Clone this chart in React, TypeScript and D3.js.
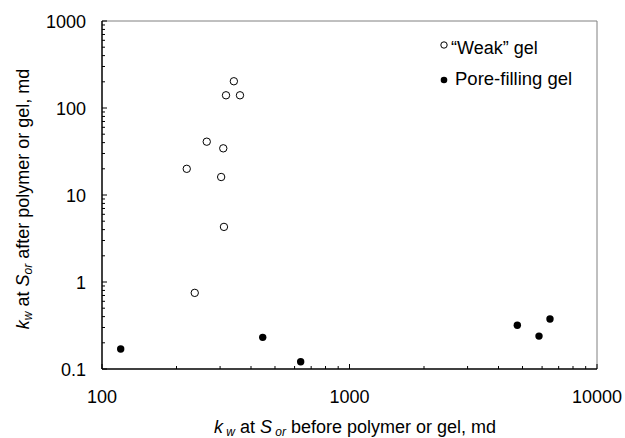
import React from "react";
import * as d3 from "d3";

const weakX = [220, 265, 303, 309, 317, 341, 361, 311, 237];
const weakY = [20, 41, 16.1, 34.4, 140, 203, 140, 4.3, 0.75];
const poreX = [119, 446, 635, 4765, 5830, 6457];
const poreY = [0.17, 0.231, 0.121, 0.318, 0.239, 0.376];
const xTicks = [100, 1000, 10000];
const yTicks = [0.1, 1, 10, 100, 1000];

const W = 625, H = 438;
const L = 102, R = 597, T = 21, B = 369;

export default function App() {
  const x = d3.scaleLog().domain([100, 10000]).range([L, R]);
  const y = d3.scaleLog().domain([0.1, 1000]).range([B, T]);
  const font = "Liberation Sans, Arial, sans-serif";

  const xMinor: number[] = [];
  for (let d = 100; d < 10000; d *= 10) for (let m = 2; m <= 9; m++) xMinor.push(d * m);
  const yMinor: number[] = [];
  for (let d = 0.1; d < 1000; d *= 10) for (let m = 2; m <= 9; m++) yMinor.push(+(d * m).toPrecision(3));

  return (
    <svg width={W} height={H} style={{ position: "absolute", left: 0, top: 0 }} fontFamily={font}>
      <rect x={0} y={0} width={W} height={H} fill="#fff" />
      <line x1={L} x2={R} y1={T} y2={T} stroke="#808080" strokeWidth={1} />
      <line x1={R} x2={R} y1={T} y2={B} stroke="#808080" strokeWidth={1} />
      {xMinor.map((v, i) => (
        <line key={"xm" + i} x1={x(v)} x2={x(v)} y1={B} y2={B - 3} stroke="#000" strokeWidth={1} />
      ))}
      {xTicks.map((v, i) => (
        <g key={"xt" + i}>
          <line x1={x(v)} x2={x(v)} y1={B} y2={B - 5} stroke="#000" strokeWidth={1} />
          <text x={x(v)} y={403} textAnchor="middle" fontSize={18}>{v}</text>
        </g>
      ))}
      {yMinor.map((v, i) => (
        <line key={"ym" + i} x1={L} x2={L + 3} y1={y(v)} y2={y(v)} stroke="#000" strokeWidth={1} />
      ))}
      {yTicks.map((v, i) => (
        <g key={"yt" + i}>
          <line x1={L} x2={L + 5} y1={y(v)} y2={y(v)} stroke="#000" strokeWidth={1} />
          <text x={86} y={y(v) + 6.5} textAnchor="end" fontSize={18}>{v}</text>
        </g>
      ))}
      <line x1={L} x2={R} y1={B} y2={B} stroke="#000" strokeWidth={1.5} />
      <line x1={L} x2={L} y1={T} y2={B} stroke="#000" strokeWidth={1.5} />
      {weakX.map((v, i) => (
        <circle key={"w" + i} cx={x(v)} cy={y(weakY[i])} r={3.7} fill="#fff" stroke="#000" strokeWidth={1} />
      ))}
      {poreX.map((v, i) => (
        <circle key={"p" + i} cx={x(v)} cy={y(poreY[i])} r={3.7} fill="#000" />
      ))}
      <circle cx={444} cy={45} r={3.2} fill="#fff" stroke="#000" strokeWidth={1} />
      <text x={451} y={54} fontSize={18}>“Weak” gel</text>
      <circle cx={444} cy={80} r={3.3} fill="#000" />
      <text x={455} y={85} fontSize={18.5}>Pore-filling gel</text>
      <text x={355} y={433} textAnchor="middle" fontSize={18}>
        <tspan fontStyle="italic">k</tspan>
        <tspan fontStyle="italic" fontSize={12} dy={3}> w</tspan>
        <tspan dy={-3}> at </tspan>
        <tspan fontStyle="italic">S</tspan>
        <tspan fontStyle="italic" fontSize={12} dy={3}> or</tspan>
        <tspan dy={-3}> before polymer or gel, md</tspan>
      </text>
      <text transform={`translate(29, 199) rotate(-90)`} textAnchor="middle" fontSize={18}>
        <tspan fontStyle="italic">k</tspan>
        <tspan fontStyle="italic" fontSize={12} dy={3}>w</tspan>
        <tspan dy={-3}> at </tspan>
        <tspan fontStyle="italic">S</tspan>
        <tspan fontStyle="italic" fontSize={12} dy={3}>or</tspan>
        <tspan dy={-3}> after polymer or gel, md</tspan>
      </text>
    </svg>
  );
}
